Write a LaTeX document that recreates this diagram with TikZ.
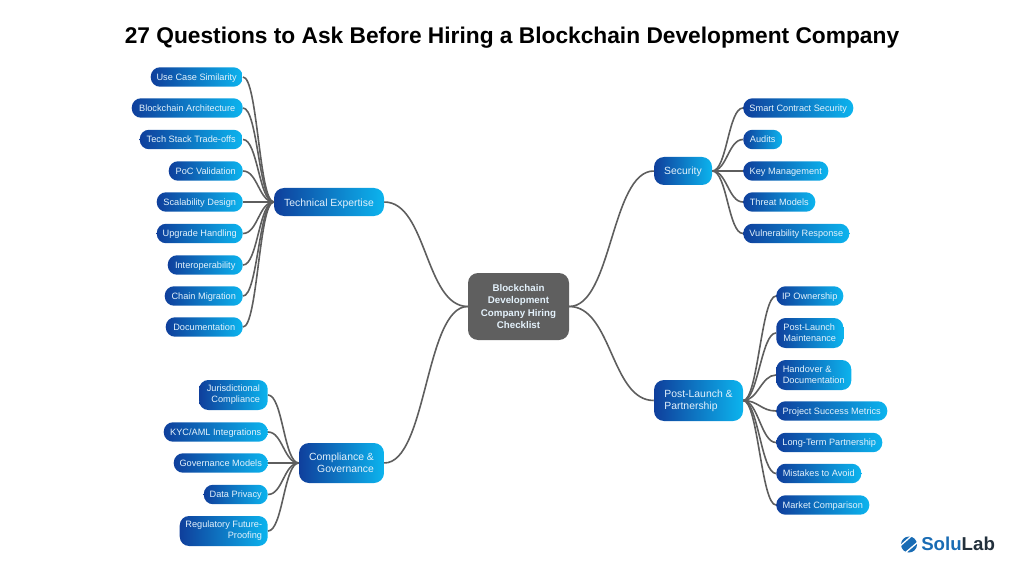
\documentclass[tikz,border=0pt]{standalone}
\usepackage{fontspec}
\setmainfont{Liberation Sans}
\usepackage{xcolor}
\definecolor{deepblue}{HTML}{0F3F9C}
\definecolor{skyblue}{HTML}{0CB4EE}
\definecolor{linegray}{HTML}{5E5E5E}
\definecolor{centergray}{HTML}{5F5F5F}
\definecolor{paleblue}{HTML}{E4F2FC}
\definecolor{logoblue}{HTML}{1A6CB4}
\definecolor{logodark}{HTML}{22303C}

\begin{document}
\begin{tikzpicture}[x=0.75pt, y=-0.75pt]

	% Define styles
	\tikzset{
		base/.style={
			rectangle, left color=deepblue, right color=skyblue,
			text=paleblue, inner sep=0pt
		},
		leaf/.style={
			base, rounded corners=7pt, minimum height=14.6pt,
			text height=5.6pt, text depth=0.8pt,
			font=\fontsize{6.9}{8.25}\selectfont
		},
		leftleaf/.style={leaf, anchor=east, align=right},
		rightleaf/.style={leaf, anchor=west, align=left},
		twoline/.style={minimum height=22.5pt, text height={}, text depth={}},
		hub/.style={
			base, rounded corners=7.5pt,
			font=\fontsize{7.8}{9}\selectfont
		},
		smallhub/.style={hub, minimum height=21pt, text height=6.6pt, text depth=0.6pt},
		center/.style={
			rectangle, fill=centergray, text=paleblue, rounded corners=7.5pt,
			minimum width=75.75pt, minimum height=50.25pt, inner sep=0pt,
			align=center, font=\fontsize{7.3}{9.1}\selectfont\bfseries
		},
		link/.style={draw=linegray, line width=1.2pt, out=0, in=180, distance=11pt},
		mainlink/.style={link, distance=32pt}
	}

	\useasboundingbox (0,0) rectangle (1024,574);

	% Title
	\node (title) [font=\fontsize{17.05}{20}\selectfont\bfseries, text=black] at (512,37.5) {27 Questions to Ask Before Hiring a Blockchain Development Company};

	% Main flow
	\node (checklist) [center] at (518.5,306.5) {Blockchain\\Development\\Company Hiring\\Checklist};
	\node (tech)      [smallhub, minimum width=82.5pt] at (329,202) {Technical Expertise};
	\node (comp)      [hub, minimum width=63.75pt, minimum height=30pt, align=right] at (341.5,463) {Compliance \&\\Governance};
	\node (security)  [smallhub, minimum width=43.5pt] at (683,171) {Security};
	\node (post)      [hub, minimum width=66.75pt, minimum height=30.75pt, align=left] at (698.5,400.5) {Post-Launch \&\\Partnership};

	% Technical leaves
	\node (usecase)  [leftleaf, minimum width=69pt]    at (243,77)    {Use Case Similarity};
	\node (arch)     [leftleaf, minimum width=83.25pt] at (243,108)   {Blockchain Architecture};
	\node (stack)    [leftleaf, minimum width=77.25pt] at (243,139.5) {Tech Stack Trade-offs};
	\node (poc)      [leftleaf, minimum width=55.5pt]  at (243,171)   {PoC Validation};
	\node (scale)    [leftleaf, minimum width=64.5pt]  at (243,202)   {Scalability Design};
	\node (upgrade)  [leftleaf, minimum width=64.5pt]  at (243,233.5) {Upgrade Handling};
	\node (interop)  [leftleaf, minimum width=56.25pt] at (243,265)   {Interoperability};
	\node (chain)    [leftleaf, minimum width=58.5pt]  at (243,296)   {Chain Migration};
	\node (docs)     [leftleaf, minimum width=57.75pt] at (243,327)   {Documentation};

	% Compliance leaves
	\node (juris)    [leftleaf, twoline, minimum width=51.5pt] at (268,395) {Jurisdictional\\Compliance};
	\node (kyc)      [leftleaf, minimum width=78pt]    at (268,432)   {KYC/AML Integrations};
	\node (govern)   [leftleaf, minimum width=70.5pt]  at (268,463)   {Governance Models};
	\node (privacy)  [leftleaf, minimum width=48pt]    at (268,494.5) {Data Privacy};
	\node (future)   [leftleaf, twoline, minimum width=66pt] at (268,531) {Regulatory Future-\\Proofing};

	% Security leaves
	\node (contract) [rightleaf, minimum width=82.5pt] at (743,108)   {Smart Contract Security};
	\node (audits)   [rightleaf, minimum width=29.25pt] at (743,139.5) {Audits};
	\node (keys)     [rightleaf, minimum width=63.75pt] at (743,171)   {Key Management};
	\node (threat)   [rightleaf, minimum width=54pt]   at (743,202)   {Threat Models};
	\node (vuln)     [rightleaf, minimum width=79.5pt] at (743,233.5) {Vulnerability Response};

	% Post-launch leaves
	\node (owner)    [rightleaf, minimum width=50.25pt] at (776,296)  {IP Ownership};
	\node (maint)    [rightleaf, twoline, minimum width=50.25pt] at (776,333) {Post-Launch\\Maintenance};
	\node (handover) [rightleaf, twoline, minimum width=56.25pt] at (776,375) {Handover \&\\Documentation};
	\node (metrics)  [rightleaf, minimum width=83.25pt] at (776,411)  {Project Success Metrics};
	\node (longterm) [rightleaf, minimum width=79.5pt] at (776,442.5) {Long-Term Partnership};
	\node (mistakes) [rightleaf, minimum width=63.75pt] at (776,473.5) {Mistakes to Avoid};
	\node (market)   [rightleaf, minimum width=69.75pt] at (776,505)  {Market Comparison};

	% Main flow arrows
	\draw[mainlink] (tech.east) to (checklist.west);
	\draw[mainlink] (comp.east) to (checklist.west);
	\draw[mainlink] (checklist.east) to (security.west);
	\draw[mainlink] (checklist.east) to (post.west);

	% Technical branches
	\draw[link] (usecase.east) to (tech.west);
	\draw[link] (arch.east)    to (tech.west);
	\draw[link] (stack.east)   to (tech.west);
	\draw[link] (poc.east)     to (tech.west);
	\draw[link] (scale.east)   to (tech.west);
	\draw[link] (upgrade.east) to (tech.west);
	\draw[link] (interop.east) to (tech.west);
	\draw[link] (chain.east)   to (tech.west);
	\draw[link] (docs.east)    to (tech.west);

	% Compliance branches
	\draw[link] (juris.east)   to (comp.west);
	\draw[link] (kyc.east)     to (comp.west);
	\draw[link] (govern.east)  to (comp.west);
	\draw[link] (privacy.east) to (comp.west);
	\draw[link] (future.east)  to (comp.west);

	% Security branches
	\draw[link] (security.east) to (contract.west);
	\draw[link] (security.east) to (audits.west);
	\draw[link] (security.east) to (keys.west);
	\draw[link] (security.east) to (threat.west);
	\draw[link] (security.east) to (vuln.west);

	% Post-launch branches
	\draw[link] (post.east) to (owner.west);
	\draw[link] (post.east) to (maint.west);
	\draw[link] (post.east) to (handover.west);
	\draw[link] (post.east) to (metrics.west);
	\draw[link] (post.east) to (longterm.west);
	\draw[link] (post.east) to (mistakes.west);
	\draw[link] (post.east) to (market.west);

	% Logo
	\fill[logoblue] (909,544.5) circle (8);
	\draw[white, line width=1pt] (900,546) -- (912,535.5);
	\draw[white, line width=1pt] (905,553) -- (918,542);
	\node (logo) [anchor=west, inner sep=0pt, font=\fontsize{14}{16}\selectfont\bfseries] at (921,544) {\textcolor{logoblue}{Solu}\textcolor{logodark}{Lab}};

\end{tikzpicture}
\end{document}
